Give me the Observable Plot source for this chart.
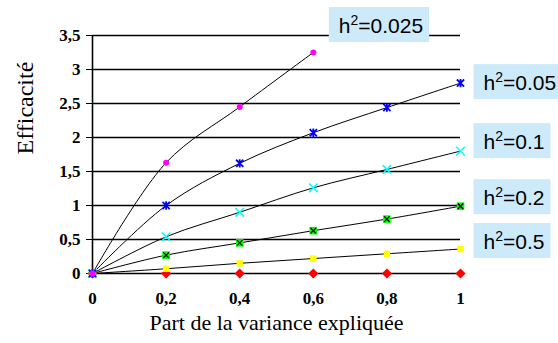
<!DOCTYPE html>
<html>
<head>
<meta charset="utf-8">
<script src="https://cdn.jsdelivr.net/npm/d3@7"></script>
<script src="https://cdn.jsdelivr.net/npm/@observablehq/plot@0.6"></script>
<style>
  html, body { margin: 0; padding: 0; background: #fff; }
  #chart { width: 558px; height: 343px; }
</style>
</head>
<body>
<div id="chart"></div>
<script>
// ---- data ----
const xValues = [0, 0.2, 0.4, 0.6, 0.8, 1];
const h2_0025 = [0, 1.63, 2.45, 3.25];
const h2_005  = [0, 1.00, 1.62, 2.07, 2.44, 2.80];
const h2_01   = [0, 0.54, 0.90, 1.26, 1.53, 1.80];
const h2_02   = [0, 0.27, 0.45, 0.63, 0.80, 0.99];
const h2_05   = [0, 0.07, 0.15, 0.22, 0.29, 0.36];
const h2_1    = [0, 0, 0, 0, 0, 0];
const seriesNames = ["0.025", "0.05", "0.1", "0.2", "0.5", "1"];
const labelNames = ["0.025", "0.05", "0.1", "0.2", "0.5"];
const xTicks = [0, 0.2, 0.4, 0.6, 0.8, 1];
const yTicks = [0, 0.5, 1, 1.5, 2, 2.5, 3, 3.5];
const xTitle = "Part de la variance expliquée";
const yTitle = "Efficacité";

// ---- build tidy table ----
const seriesValues = [h2_0025, h2_005, h2_01, h2_02, h2_05, h2_1];
const rows = [];
seriesValues.forEach((vals, i) => vals.forEach((v, j) => rows.push({s: seriesNames[i], x: xValues[j], y: v})));
const of = name => rows.filter(d => d.s === name);

const comma = d => String(d).replace(".", ",");

const star = {
  draw(ctx, size) {
    const r = Math.sqrt(size / Math.PI);
    ctx.moveTo(-r, -r); ctx.lineTo(r, r);
    ctx.moveTo(-r, r); ctx.lineTo(r, -r);
    ctx.moveTo(0, -r * 1.15); ctx.lineTo(0, r * 1.15);
  }
};

const serif = "'Liberation Serif', 'Times New Roman', serif";

const chart = Plot.plot({
  width: 558,
  height: 343,
  marginLeft: 92,
  marginRight: 98,
  marginTop: 35,
  marginBottom: 70,
  style: {fontFamily: serif, background: "#fff", overflow: "visible"},
  x: {domain: [0, 1]},
  y: {domain: [0, 3.5]},
  marks: [
    Plot.ruleY(yTicks, {stroke: "#000", strokeWidth: 1.6}),
    Plot.ruleX([0], {stroke: "#000", strokeWidth: 1.6}),
    Plot.axisX({ticks: xTicks, tickFormat: comma, tickSize: 5, tickPadding: 13,
      fontSize: 17, fontWeight: "bold", label: null, stroke: "#000"}),
    Plot.axisY({ticks: yTicks, tickFormat: comma, tickSize: 6, tickPadding: 6,
      fontSize: 17, fontWeight: "bold", label: null, stroke: "#000"}),
    // curves
    ...seriesNames.map(n => Plot.line(of(n), {x: "x", y: "y", curve: "catmull-rom", stroke: "#000", strokeWidth: 1})),
    // markers
    Plot.dot(of("1"), {x: "x", y: "y", symbol: "diamond2", r: 4.6, fill: "#ff0000"}),
    Plot.dot(of("0.5"), {x: "x", y: "y", symbol: "square", r: 3.6, fill: "#ffff00"}),
    Plot.dot(of("0.2"), {x: "x", y: "y", symbol: "square", r: 4.3, fill: "#00ff00"}),
    Plot.dot(of("0.2"), {x: "x", y: "y", symbol: "times", r: 2.6, stroke: "#000", strokeWidth: 1.3}),
    Plot.dot(of("0.1"), {x: "x", y: "y", symbol: "times", r: 4, stroke: "#00ffff", strokeWidth: 1.5}),
    Plot.dot(of("0.05"), {x: "x", y: "y", symbol: star, r: 3.6, stroke: "#0000ff", strokeWidth: 1.8}),
    Plot.dot(of("0.025"), {x: "x", y: "y", symbol: "circle", r: 3, fill: "#ff00ff"}),
    // axis titles
    Plot.text([yTitle], {frameAnchor: "left", dx: -67, rotate: -90, text: d => d, fontSize: 24, fill: "#000"}),
    Plot.text([xTitle], {frameAnchor: "bottom", dy: 56, text: d => d, fontSize: 22, fill: "#000"})
  ]
});

document.getElementById("chart").appendChild(chart);

// ---- series labels (boxes), anchored to each series' last point ----
const labelOffsets = [[16, -27.5], [13.5, -1], [13.5, -10], [13.5, -9], [13.5, -8]];
const sx = chart.scale("x"), sy = chart.scale("y");
const svg = d3.select(chart);
labelNames.forEach((name, i) => {
  const vals = seriesValues[i];
  const ax = sx.apply(xValues[vals.length - 1]);
  const ay = sy.apply(vals[vals.length - 1]);
  const [ox, oy] = labelOffsets[i];
  const g = svg.append("g").attr("transform", `translate(${ax + ox},${ay + oy})`);
  const rect = g.append("rect").attr("y", -17.5).attr("height", 35).attr("fill", "#cdeafa");
  const t = g.append("text").attr("x", 10).attr("y", 8).attr("text-anchor", "start")
    .attr("font-family", "'Liberation Sans', Arial, sans-serif").attr("font-size", 21).attr("fill", "#000");
  t.append("tspan").text("h");
  t.append("tspan").attr("font-size", 14).attr("dy", -8).text("2");
  t.append("tspan").attr("dy", 8).text("=" + name);
  const w = t.node().getComputedTextLength();
  rect.attr("width", w + 16);
});
</script>
</body>
</html>
